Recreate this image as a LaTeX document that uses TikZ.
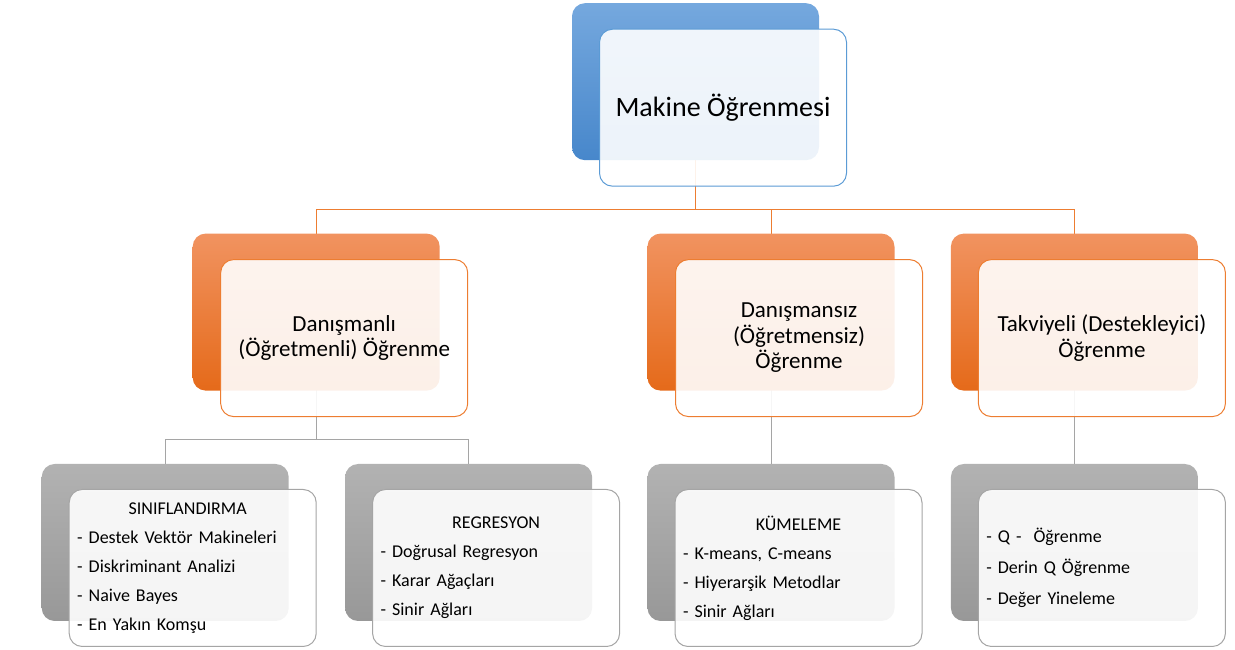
\documentclass[tikz,border=0pt]{standalone}
\usepackage{fontspec}
\setmainfont{Carlito}
\usepackage{xcolor}
\usepackage{tikz}
\usetikzlibrary{positioning, backgrounds}

\definecolor{mlblue}{HTML}{5B9BD5}
\definecolor{mlbluetop}{HTML}{75A8DE}
\definecolor{mlbluebot}{HTML}{4787CB}
\definecolor{mlorange}{HTML}{ED7D31}
\definecolor{mlorangetop}{HTML}{F19360}
\definecolor{mlorangebot}{HTML}{E56A1A}
\definecolor{mlgray}{HTML}{A5A5A5}
\definecolor{mlgraytop}{HTML}{B2B2B2}
\definecolor{mlgraybot}{HTML}{989898}

\begin{document}
\begin{tikzpicture}[
        x=1pt, y=1pt,
        back/.style={rectangle, rounded corners=13pt, inner sep=0pt,
                     minimum width=247pt, minimum height=157pt},
        front/.style={rectangle, draw, line width=1pt, rounded corners=13pt, inner sep=0pt,
                      fill=white, fill opacity=0.9, text opacity=1,
                      minimum width=247pt, minimum height=157pt},
        root_back/.style={back, top color=mlbluetop, bottom color=mlbluebot},
        branch_back/.style={back, top color=mlorangetop, bottom color=mlorangebot},
        leaf_back/.style={back, top color=mlgraytop, bottom color=mlgraybot},
        root/.style={front, draw=mlblue, font=\fontsize{28}{33}\selectfont},
        branch/.style={front, draw=mlorange, align=center, font=\fontsize{23}{25.5}\selectfont},
        leaf/.style={front, draw=mlgray, text width=231pt, align=left, font=\fontsize{18}{29}\selectfont},
        orange_link/.style={draw=mlorange, line width=1pt},
        gray_link/.style={draw=mlgray, line width=1pt}
      ]
      \useasboundingbox (0,0) rectangle (1235,650);

      % --- Leaf level (back plates) ---
      \node (clu_back) [leaf_back] at (771,107.5) {};
      \node (qrl_back) [leaf_back, right=56pt of clu_back] {};
      \node (reg_back) [leaf_back, left=55pt of clu_back] {};
      \node (cls_back) [leaf_back, left=56pt of reg_back] {};

      % --- Learning types (back plates) ---
      \node (unsup_back) [branch_back, above=73pt of clu_back] {};
      \node (rl_back) [branch_back, above=73pt of qrl_back] {};
      \node (sup_back) [branch_back, above=73pt of cls_back, xshift=151pt] {};

      % --- Root (back plate) ---
      \node (ml_back) [root_back, above=73pt of unsup_back, xshift=-75.5pt] {};

      % --- Front cards with the texts ---
      \node (ml) [root] at ([shift={(27.5pt,-26pt)}]ml_back.center) {Makine Öğrenmesi};

      \node (sup) [branch] at ([shift={(28pt,-26pt)}]sup_back.center) {Danışmanlı\\(Öğretmenli) Öğrenme};
      \node (unsup) [branch] at ([shift={(28pt,-26pt)}]unsup_back.center) {Danışmansız\\(Öğretmensiz)\\Öğrenme};
      \node (rl) [branch] at ([shift={(27.5pt,-26pt)}]rl_back.center) {Takviyeli (Destekleyici)\\Öğrenme};

      \node (cls) [leaf] at ([shift={(27.5pt,-25.5pt)}]cls_back.center)
        {\makebox[\hsize]{SINIFLANDIRMA\hspace{10pt}}\\- Destek Vektör Makineleri\\- Diskriminant Analizi\\- Naive Bayes\\- En Yakın Komşu};
      \node (reg) [leaf] at ([shift={(27.5pt,-25.5pt)}]reg_back.center)
        {\makebox[\hsize]{REGRESYON}\\- Doğrusal Regresyon\\- Karar Ağaçları\\- Sinir Ağları};
      \node (clu) [leaf] at ([shift={(27.5pt,-25.5pt)}]clu_back.center)
        {\makebox[\hsize]{KÜMELEME}\\- K-means, C-means\\- Hiyerarşik Metodlar\\- Sinir Ağları};
      \node (qrl) [leaf, font=\fontsize{18}{31}\selectfont] at ([shift={(27.5pt,-25.5pt)}]qrl_back.center)
        {- Q -\ \ Öğrenme\\- Derin Q Öğrenme\\- Değer Yineleme};

      % --- Connectors (behind the cards) ---
      \coordinate (bus_root) at ([yshift=-49pt]ml_back.south);
      \coordinate (bus_sup) at ([yshift=-49pt]sup_back.south);
      \begin{scope}[on background layer]
        \draw [orange_link] (ml_back.center) -- (bus_root) -| (sup_back.center);
        \draw [orange_link] (bus_root) -| (unsup_back.center);
        \draw [orange_link] (bus_root) -| (rl_back.center);
        \draw [gray_link] (sup_back.center) -- (bus_sup) -| (cls_back.center);
        \draw [gray_link] (bus_sup) -| (reg_back.center);
        \draw [gray_link] (unsup_back.center) -- (clu_back.center);
        \draw [gray_link] (rl_back.center) -- (qrl_back.center);
      \end{scope}

    \end{tikzpicture}
\end{document}
